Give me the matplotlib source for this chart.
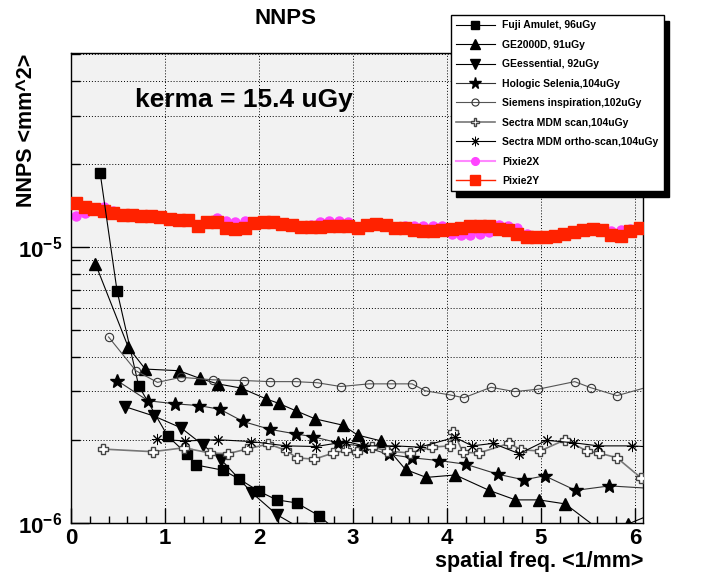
import matplotlib
matplotlib.use('Agg')
import matplotlib.pyplot as plt
from matplotlib.ticker import FixedLocator, FixedFormatter, MultipleLocator, NullFormatter

plt.rcParams['font.family'] = ['Liberation Sans', 'DejaVu Sans']
plt.rcParams['font.weight'] = 'bold'
plt.rcParams['mathtext.fontset'] = 'custom'
plt.rcParams['mathtext.rm'] = 'Liberation Sans:bold'
plt.rcParams['mathtext.bf'] = 'Liberation Sans:bold'

# 读图得到的数据 (spatial freq. 1/mm, NNPS mm^2)
fuji_x = [0.31, 0.49, 0.72, 1.03, 1.23, 1.33, 1.62, 1.79, 2.00, 2.19, 2.40, 2.64, 2.90]
fuji_y = [1.86e-5, 6.94e-6, 3.14e-6, 2.06e-6, 1.78e-6, 1.62e-6, 1.55e-6, 1.44e-6,
          1.30e-6, 1.21e-6, 1.18e-6, 1.06e-6, 8.9e-7]

ge2000_x = [0.26, 0.61, 0.79, 1.15, 1.37, 1.56, 1.81, 2.07, 2.21, 2.39, 2.60, 2.89,
            3.05, 3.30, 3.56, 3.78, 4.09, 4.45, 4.73, 4.98, 5.26, 5.70, 5.93, 6.20]
ge2000_y = [8.7e-6, 4.33e-6, 3.61e-6, 3.56e-6, 3.34e-6, 3.19e-6, 3.08e-6, 2.82e-6,
            2.71e-6, 2.55e-6, 2.38e-6, 2.26e-6, 2.08e-6, 1.98e-6, 1.56e-6, 1.46e-6,
            1.49e-6, 1.31e-6, 1.21e-6, 1.21e-6, 1.17e-6, 9.0e-7, 9.9e-7, 1.08e-6]

gee_x = [0.57, 0.88, 1.17, 1.40, 1.60, 1.93, 2.19, 2.45]
gee_y = [2.64e-6, 2.44e-6, 2.21e-6, 1.92e-6, 1.69e-6, 1.28e-6, 1.07e-6, 9.5e-7]

hologic_x = [0.49, 0.82, 1.11, 1.36, 1.585, 1.83, 2.12, 2.39, 2.58, 2.84, 3.11,
             3.38, 3.63, 3.92, 4.20, 4.54, 4.82, 5.04, 5.37, 5.73, 6.20]
hologic_y = [3.28e-6, 2.77e-6, 2.70e-6, 2.66e-6, 2.58e-6, 2.33e-6, 2.18e-6, 2.10e-6,
             2.05e-6, 1.95e-6, 1.89e-6, 1.77e-6, 1.72e-6, 1.68e-6, 1.63e-6, 1.50e-6,
             1.43e-6, 1.48e-6, 1.31e-6, 1.36e-6, 1.33e-6]

siemens_x = [0.40, 0.69, 0.92, 1.17, 1.51, 1.84, 2.12, 2.39, 2.62, 2.87, 3.17, 3.40,
             3.63, 3.77, 4.03, 4.18, 4.47, 4.72, 4.97, 5.36, 5.53, 5.81, 6.20]
siemens_y = [4.72e-6, 3.56e-6, 3.23e-6, 3.37e-6, 3.30e-6, 3.28e-6, 3.25e-6, 3.25e-6,
             3.22e-6, 3.12e-6, 3.19e-6, 3.19e-6, 3.19e-6, 3.01e-6, 2.91e-6, 2.84e-6,
             3.10e-6, 2.99e-6, 3.05e-6, 3.25e-6, 3.09e-6, 2.89e-6, 3.15e-6]

sectra_x = [0.34, 0.87, 1.20, 1.48, 1.67, 1.87, 2.10, 2.29, 2.40, 2.59, 2.79, 2.93,
            3.04, 3.20, 3.36, 3.61, 3.84, 4.03, 4.07, 4.17, 4.34, 4.66, 4.79, 4.99,
            5.26, 5.49, 5.62, 5.81, 6.07]
sectra_y = [1.85e-6, 1.81e-6, 1.87e-6, 1.79e-6, 1.78e-6, 1.85e-6, 1.93e-6, 1.83e-6,
            1.72e-6, 1.70e-6, 1.79e-6, 1.83e-6, 1.81e-6, 1.89e-6, 1.82e-6, 1.79e-6,
            1.88e-6, 1.90e-6, 2.14e-6, 1.80e-6, 1.79e-6, 1.94e-6, 1.84e-6, 1.82e-6,
            2.00e-6, 1.82e-6, 1.79e-6, 1.72e-6, 1.45e-6]

ortho_x = [0.91, 1.21, 1.56, 1.92, 2.29, 2.61, 2.93, 3.12, 3.45, 3.71, 4.085, 4.27,
           4.49, 4.77, 5.06, 5.35, 5.61, 5.97, 6.20]
ortho_y = [2.01e-6, 1.98e-6, 2.00e-6, 1.97e-6, 1.90e-6, 1.89e-6, 1.97e-6, 1.90e-6,
           1.90e-6, 1.88e-6, 2.04e-6, 1.90e-6, 1.94e-6, 1.78e-6, 1.99e-6, 1.95e-6,
           1.90e-6, 1.90e-6, 1.88e-6]

pixie_x = [0.05, 0.15, 0.25, 0.35, 0.45, 0.55, 0.65, 0.75, 0.85, 0.95,
           1.05, 1.15, 1.25, 1.35, 1.45, 1.55, 1.65, 1.75, 1.85, 1.95,
           2.05, 2.15, 2.25, 2.35, 2.45, 2.55, 2.65, 2.75, 2.85, 2.95,
           3.05, 3.15, 3.25, 3.35, 3.45, 3.55, 3.65, 3.75, 3.85, 3.95,
           4.05, 4.15, 4.25, 4.35, 4.45, 4.55, 4.65, 4.75, 4.85, 4.95,
           5.05, 5.15, 5.25, 5.35, 5.45, 5.55, 5.65, 5.75, 5.85, 5.95,
           6.05]
# 单位 1e-5
pixie2x_y = [1.30, 1.33, 1.38, 1.40, 1.35, 1.32, 1.30, 1.29, 1.29, 1.28,
             1.26, 1.24, 1.24, 1.20, 1.22, 1.28, 1.24, 1.23, 1.24, 1.23,
             1.22, 1.22, 1.21, 1.19, 1.19, 1.20, 1.23, 1.24, 1.24, 1.23,
             1.18, 1.19, 1.20, 1.19, 1.18, 1.19, 1.19, 1.19, 1.19, 1.19,
             1.12, 1.11, 1.11, 1.12, 1.13, 1.20, 1.19, 1.17, 1.12, 1.10,
             1.09, 1.10, 1.12, 1.13, 1.14, 1.15, 1.15, 1.14, 1.15, 1.16,
             1.17]
pixie2y_y = [1.44, 1.40, 1.37, 1.35, 1.33, 1.31, 1.31, 1.30, 1.30, 1.285,
             1.27, 1.25, 1.25, 1.19, 1.23, 1.23, 1.17, 1.16, 1.17, 1.22,
             1.23, 1.23, 1.21, 1.20, 1.18, 1.18, 1.18, 1.19, 1.19, 1.19,
             1.17, 1.20, 1.21, 1.20, 1.17, 1.17, 1.15, 1.14, 1.14, 1.15,
             1.16, 1.17, 1.19, 1.19, 1.19, 1.16, 1.15, 1.12, 1.09, 1.09,
             1.09, 1.10, 1.12, 1.13, 1.15, 1.16, 1.15, 1.11, 1.10, 1.14,
             1.17]

fig = plt.figure(figsize=(7.05, 5.79), dpi=100)
ax = fig.add_axes([71 / 705, 1 - 522.7 / 579, (643.3 - 71) / 705, (522.7 - 53.3) / 579])
ax.set_facecolor('#f2f2f2')

lw = 0.8
ax.plot(fuji_x, fuji_y, color='black', lw=lw, marker='s', ms=7.5, mfc='black', mec='black',
        label='Fuji Amulet, 96uGy', zorder=4)
ax.plot(ge2000_x, ge2000_y, color='black', lw=lw, marker='^', ms=8, mfc='black', mec='black',
        label='GE2000D, 91uGy', zorder=4)
ax.plot(gee_x, gee_y, color='black', lw=lw, marker='v', ms=8, mfc='black', mec='black',
        label='GEessential, 92uGy', zorder=4)
ax.plot(hologic_x, hologic_y, color='#333333', lw=lw, marker='*', ms=10, mfc='black', mec='black',
        label='Hologic Selenia,104uGy', zorder=4)
ax.plot(siemens_x, siemens_y, color='#555555', lw=lw, marker='o', ms=6, mfc='none', mec='#333333',
        mew=0.8, label='Siemens inspiration,102uGy', zorder=4)
ax.plot(sectra_x, sectra_y, color='#777777', lw=1.2, marker='P', ms=7, mfc='white', mec='#444444',
        mew=1.0, label='Sectra MDM scan,104uGy', zorder=4)
ax.plot(ortho_x, ortho_y, color='black', lw=lw, marker=(8, 2, 0), ms=8, mec='black', mew=0.7,
        label='Sectra MDM ortho-scan,104uGy', zorder=4)
ax.plot(pixie_x, [v * 1e-5 for v in pixie2x_y], color='#ff88ff', lw=1.5, marker='o', ms=6.5,
        mfc='#ff44ff', mec='#ff44ff', label='Pixie2X', zorder=2)
ax.plot(pixie_x, [v * 1e-5 for v in pixie2y_y], color='#ff2200', lw=1.0, marker='s', ms=8.5,
        mfc='#ff2200', mec='#ff2200', label='Pixie2Y', zorder=3)

ax.set_yscale('log')
ax.set_xlim(0, 6.09)
ax.set_ylim(1e-6, 5.05e-5)

# 坐标轴刻度
ax.xaxis.set_major_locator(FixedLocator([0, 1, 2, 3, 4, 5, 6]))
ax.xaxis.set_minor_locator(MultipleLocator(0.2))
ax.yaxis.set_major_locator(FixedLocator([1e-6, 1e-5]))
ax.yaxis.set_major_formatter(FixedFormatter(['$10^{-6}$', '$10^{-5}$']))
ax.yaxis.set_minor_locator(FixedLocator([m * 1e-6 for m in range(2, 10)] + [m * 1e-5 for m in range(2, 6)]))
ax.yaxis.set_minor_formatter(NullFormatter())
ax.tick_params(which='both', direction='in', top=False, right=False, width=1)
ax.tick_params(axis='x', which='major', length=11, labelsize=16, pad=4)
ax.tick_params(axis='x', which='minor', length=5)
ax.tick_params(axis='y', which='major', length=13, labelsize=16, pad=6)
ax.tick_params(axis='y', which='minor', length=6.5)

ax.grid(True, axis='x', which='major', color='black', ls=(0, (1, 2)), lw=0.7)
ax.grid(True, axis='y', which='both', color='black', ls=(0, (1, 2)), lw=0.7)
ax.set_axisbelow(True)
for s in ax.spines.values():
    s.set_linewidth(1.0)

fig.text(643.3 / 705, 1 - 561 / 579, 'spatial freq. <1/mm>', ha='right', va='center', fontsize=15.5)
fig.text(27 / 705, 1 - 54 / 579, 'NNPS <mm^2>', rotation=90, ha='center', va='top', fontsize=15.5)
fig.text(285 / 705, 1 - 18 / 579, 'NNPS', ha='center', va='center', fontsize=16)
fig.text(135 / 705, 1 - 100 / 579, 'kerma = 15.4 uGy', ha='left', va='center', fontsize=19)

leg = ax.legend(loc='upper left', bbox_to_anchor=(450.7 / 705, 1 - 15 / 579), bbox_transform=fig.transFigure,
                fontsize=7.5, frameon=True, fancybox=False, framealpha=1, edgecolor='black',
                borderaxespad=0, borderpad=0.5, handlelength=3.75, handletextpad=0.7, labelspacing=0.91,
                markerscale=0.85, shadow={'color': 'black', 'alpha': 1, 'ox': 4, 'oy': -4})
leg.get_frame().set_linewidth(1.0)
leg.set_zorder(10)

fig.savefig('out.png', dpi=100)
